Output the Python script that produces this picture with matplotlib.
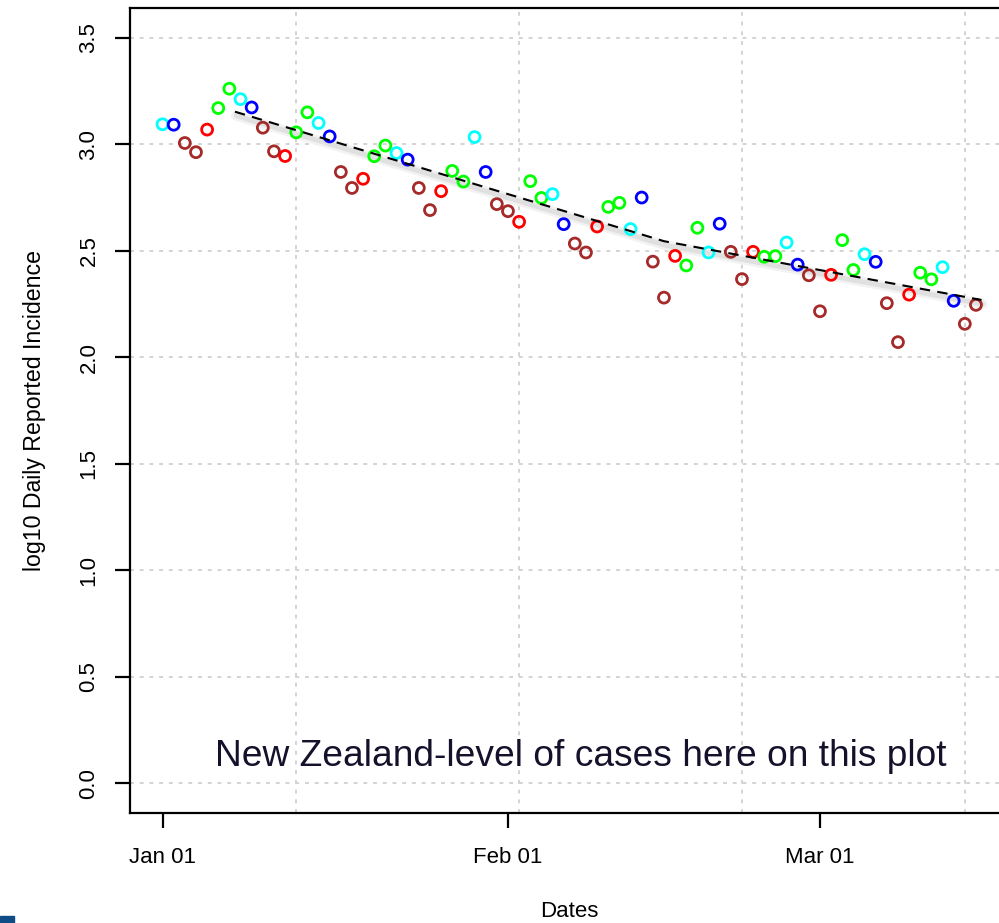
import matplotlib
matplotlib.use("Agg")
import matplotlib.pyplot as plt
import matplotlib.dates as mdates
import matplotlib.transforms as mtransforms
from matplotlib.patches import Rectangle
import pandas as pd
import numpy as np

plt.rcParams['font.family'] = ['Liberation Sans', 'DejaVu Sans']

# daily log10 incidence, Jan 01 - Mar 15 2021
start_date = "2021-01-01"
log_cases = [
    3.094, 3.092, 3.006, 2.963, 3.069, 3.170, 3.261, 3.212, 3.173, 3.078,
    2.967, 2.945, 3.056, 3.150, 3.100, 3.037, 2.870, 2.795, 2.838, 2.944,
    2.994, 2.959, 2.928, 2.795, 2.691, 2.780, 2.875, 2.825, 3.034, 2.870,
    2.719, 2.686, 2.636, 2.827, 2.748, 2.766, 2.625, 2.534, 2.492, 2.614,
    2.706, 2.725, 2.602, 2.750, 2.449, 2.280, 2.476, 2.431, 2.608, 2.492,
    2.627, 2.495, 2.367, 2.495, 2.472, 2.475, 2.539, 2.435, 2.385, 2.216,
    2.387, 2.550, 2.410, 2.484, 2.448, 2.254, 2.071, 2.294, 2.397, 2.366,
    2.423, 2.265, 2.157, 2.246,
]
# colour per weekday (Mon..Sun)
weekday_colors = ["brown", "red", "#00FF00", "#00FF00", "cyan", "blue", "brown"]

# fitted trend (piecewise)
trend_times = ["2021-01-07 12:00", "2021-02-15 00:00", "2021-03-15 12:00"]
trend_values = [3.153, 2.545, 2.269]

tick_dates = ["2021-01-01", "2021-02-01", "2021-03-01"]
tick_labels = ["Jan 01", "Feb 01", "Mar 01"]
grid_dates = ["2021-01-13", "2021-02-02", "2021-02-22", "2021-03-14"]
y_ticks = [0.0, 0.5, 1.0, 1.5, 2.0, 2.5, 3.0, 3.5]

dates = pd.date_range(start_date, periods=len(log_cases), freq="D")
colors = [weekday_colors[d.weekday()] for d in dates]

fig = plt.figure(figsize=(9.99, 9.23), dpi=100)
ax = fig.add_axes([130 / 999, 110 / 923, 878.5 / 999, 805 / 923])

x0 = mdates.date2num(pd.Timestamp(start_date))
ax.set_xlim(x0 - 2.92, x0 + 75.92)
ax.set_ylim(-0.14, 3.64)

# grid
grid_kw = dict(color="#d3d3d3", lw=1.4, ls=(0, (2, 3)), zorder=0)
for g in grid_dates:
    ax.axvline(mdates.date2num(pd.Timestamp(g)), **grid_kw)
for yv in y_ticks:
    ax.axhline(yv, **grid_kw)

# points
ax.scatter(mdates.date2num(dates), log_cases, s=62, facecolors="none",
           edgecolors=colors, linewidths=2.0, zorder=3)

# trend with soft shadow
tx = mdates.date2num(pd.to_datetime(trend_times))
sh1 = mtransforms.offset_copy(ax.transData, fig=fig, x=1, y=-4, units="dots")
ax.plot(tx, trend_values, color="#f2f2f2", lw=7, solid_capstyle="round",
        transform=sh1, zorder=1)
ax.plot(tx, trend_values, color="#e0e0e0", lw=3.5, solid_capstyle="round",
        transform=sh1, zorder=1)
ax.plot(tx, trend_values, color="black", lw=1.5, ls=(0, (5, 3.5)), zorder=4)

# axes styling
for s in ax.spines.values():
    s.set_linewidth(1.6)
ax.set_xticks(mdates.date2num(pd.to_datetime(tick_dates)))
ax.set_xticklabels(tick_labels)
ax.set_yticks(y_ticks)
ax.set_yticklabels([f"{v:.1f}" for v in y_ticks], rotation=90, va="center")
ax.tick_params(axis="both", length=11, width=1.6, labelsize=16)
ax.tick_params(axis="x", pad=13.5)
ax.tick_params(axis="y", pad=11)
ax.set_xlabel("Dates", fontsize=16, labelpad=24)
ax.set_ylabel("log10 Daily Reported Incidence", fontsize=16.7, labelpad=23)

ax.text(0.0968, 0.0584, "New Zealand-level of cases here on this plot",
        transform=ax.transAxes, fontsize=26.7, color="#16112b",
        ha="left", va="baseline", zorder=5)

fig.add_artist(Rectangle((0, 0), 14 / 999, 7.5 / 923, transform=fig.transFigure,
                         color="#0e4c86"))

fig.savefig("out.png", dpi=100)
